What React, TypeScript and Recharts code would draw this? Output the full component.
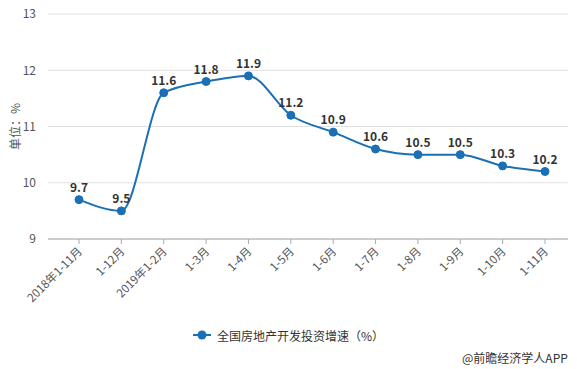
import React from 'react';
import { LineChart, Line, XAxis, YAxis, CartesianGrid, Legend, LabelList } from 'recharts';

const months = [
  '2018年1-11月', '1-12月', '2019年1-2月', '1-3月', '1-4月', '1-5月',
  '1-6月', '1-7月', '1-8月', '1-9月', '1-10月', '1-11月'
];
const growth = [9.7, 9.5, 11.6, 11.8, 11.9, 11.2, 10.9, 10.6, 10.5, 10.5, 10.3, 10.2];
const yTicks = [9, 10, 11, 12, 13];
const seriesName = '全国房地产开发投资增速（%）';

const data = months.map((m, i) => ({ month: m, value: growth[i] }));

const font = '"Microsoft YaHei", "Noto Sans CJK SC", sans-serif';
const blue = '#1a6fb5';

const XTick = (props: any) => {
  const { x, y, payload } = props;
  return (
    <text
      x={x + 4}
      y={y + 6}
      transform={`rotate(-45, ${x + 4}, ${y + 6})`}
      textAnchor="end"
      fontSize={11.5}
      fill="#555"
      fontFamily={font}
    >
      {payload.value}
    </text>
  );
};

const LegendBox = () => (
  <div style={{ display: 'flex', alignItems: 'center', justifyContent: 'center', height: 20 }}>
    <svg width={18} height={12} style={{ marginRight: 6 }}>
      <line x1={0} y1={6} x2={18} y2={6} stroke={blue} strokeWidth={2} />
      <circle cx={9} cy={6} r={4.5} fill={blue} />
    </svg>
    <span style={{ color: '#333', fontSize: 12, fontFamily: font }}>{seriesName}</span>
  </div>
);

const App: React.FC = () => {
  return (
    <div style={{ position: 'absolute', left: 0, top: 0, width: 577, height: 369, background: '#fff', fontFamily: font }}>
      <LineChart width={577} height={369} data={data} margin={{ top: 14, right: 9, left: 0, bottom: 40 }}>
        <CartesianGrid vertical={false} stroke="#e0e0e0" />
        <XAxis
          dataKey="month"
          interval={0}
          height={70}
          padding={{ left: 31, right: 23 }}
          stroke="#aaa"
          tickSize={5}
          tick={<XTick />}
        />
        <YAxis
          domain={[9, 13]}
          ticks={yTicks}
          width={48}
          axisLine={false}
          tickLine={false}
          tick={{ fontSize: 12, fill: '#555', fontFamily: font }}
          tickMargin={6}
          label={{ value: '单位：%', angle: -90, position: 'insideLeft', offset: 16, style: { fontSize: 12, fill: '#555', fontFamily: font, textAnchor: 'middle' } }}
        />
        <Legend
          verticalAlign="bottom"
          wrapperStyle={{ position: 'absolute', top: 325, left: 0, width: 577 }}
          content={<LegendBox />}
        />
        <Line
          name={seriesName}
          type="monotone"
          dataKey="value"
          stroke={blue}
          strokeWidth={2}
          dot={{ r: 4, fill: blue, stroke: blue, strokeWidth: 1 }}
          isAnimationActive={false}
        >
          <LabelList
            dataKey="value"
            position="top"
            offset={8}
            style={{ fontSize: 12, fontWeight: 'bold', fill: '#333', fontFamily: font }}
          />
        </Line>
      </LineChart>
      <div style={{ position: 'absolute', left: 462, top: 349, fontSize: 12, color: '#333', fontFamily: font }}>
        @前瞻经济学人APP
      </div>
    </div>
  );
};

export default App;
